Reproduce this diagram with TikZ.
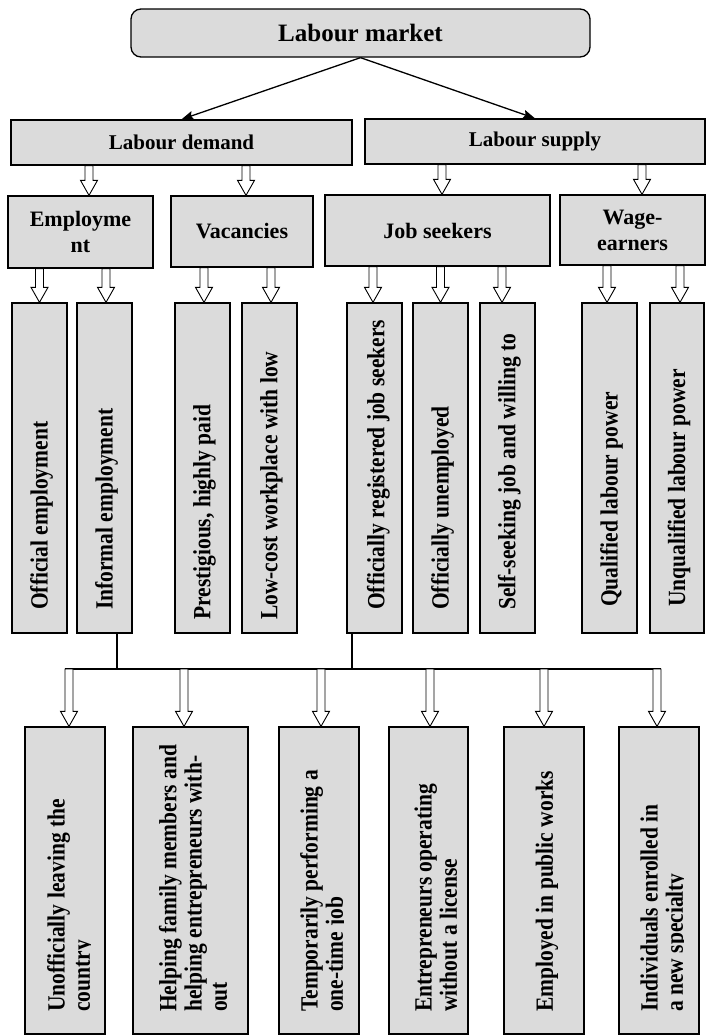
\documentclass[tikz,border=0pt]{standalone}
\usepackage{fontspec}
\setmainfont{Liberation Serif}
\usetikzlibrary{arrows.meta,calc}
\definecolor{cellgray}{gray}{0.86}

% \cellnode[options]{name}{left}{top}{right}{bottom}{text}, y measured downwards
\newcommand\cellnode[7][]{%
  \node[cell,#1,minimum width={(#5-#3)*1pt},minimum height={(#6-#4)*1pt}]
    (#2) at ({(#3+#5)/2},{-(#4+#6)/2}) {#7};}

\begin{document}
\begin{tikzpicture}[x=1pt,y=1pt,
  cell/.style={draw, fill=cellgray, line width=1.3pt, inner sep=0pt, align=center},
  htext/.style={font=\bfseries\fontsize{21}{24}\selectfont},
  hbig/.style={font=\bfseries\fontsize{22}{26}\selectfont},
  vtext/.style={font=\bfseries\fontsize{21.5}{22}\selectfont, rotate=90, yscale=1.15,
                anchor=west, inner sep=0pt, align=left},
  vlast/.style={vtext, anchor=south west},
  link/.style={line width=1.3pt},
  hollow/.style={draw, fill=white, line width=0.9pt, line join=miter,
    to path={let \p1=(\tikztostart), \p2=(\tikztotarget) in
      (\x1-4pt,\y1) -- (\x1-4pt,\y2+15pt) -- (\x1-8.5pt,\y2+15pt) -- (\x1,\y2)
      -- (\x1+8.5pt,\y2+15pt) -- (\x1+4pt,\y2+15pt) -- (\x1+4pt,\y1) -- cycle}}]

\useasboundingbox (0,0) rectangle (707,-1036);

% ---- level 1 and 2 ----
\cellnode[rounded corners=10pt, font=\bfseries\fontsize{25}{28}\selectfont]{lm}{131}{9}{590}{57}{Labour market}
\cellnode[htext]{ld}{11}{120}{352}{165}{Labour demand}
\cellnode[htext]{ls}{365}{119}{705}{164}{Labour supply}

\draw[link, -{Stealth[length=12pt,width=9pt,inset=2pt]}] (lm.south) -- (ld.north);
\draw[link, -{Stealth[length=12pt,width=9pt,inset=2pt]}] (lm.south) -- (ls.north);

% ---- level 3 ----
\cellnode[hbig]{emp}{8}{196}{153}{268}{Employme\\nt}
\cellnode[hbig]{vac}{171}{196}{313}{267}{Vacancies}
\cellnode[hbig]{js}{325}{195}{550}{266}{Job seekers}
\cellnode[hbig]{we}{560}{195}{705}{265}{Wage-\\earners}

\draw[hollow] ([xshift=8.5pt]emp.north |- ld.south) to ([xshift=8.5pt]emp.north);
\draw[hollow] ([xshift=4pt]vac.north |- ld.south) to ([xshift=4pt]vac.north);
\draw[hollow] ([xshift=4.5pt]js.north |- ls.south) to ([xshift=4.5pt]js.north);
\draw[hollow] ([xshift=9.5pt]we.north |- ls.south) to ([xshift=9.5pt]we.north);

% ---- level 4: tall boxes ----
\cellnode{oe}{12}{303}{67}{633}{}
\cellnode{ie}{77}{303}{132}{633}{}
\cellnode{pr}{175}{303}{230}{633}{}
\cellnode{lc}{242}{303}{297}{633}{}
\cellnode{rg}{347}{303}{402}{633}{}
\cellnode{ou}{413}{303}{468}{633}{}
\cellnode{ss}{480}{303}{535}{633}{}
\cellnode{ql}{582}{303}{637}{633}{}
\cellnode{uq}{650}{303}{704}{633}{}

\node[vtext] (oet) at ([xshift=2pt]oe.south |- 0,-610) {Official employment};
\node[vtext] (iet) at ([xshift=2pt]ie.south |- 0,-610) {Informal employment};
\node[vtext] (prt) at ([xshift=2pt]pr.south |- 0,-620) {Prestigious, highly paid};
\node[vtext] (lct) at ([xshift=2pt]lc.south |- 0,-620) {Low-cost workplace with low};
\node[vtext] (rgt) at ([xshift=4pt]rg.south |- 0,-610) {Officially registered job seekers};
\node[vtext] (out) at ([xshift=2pt]ou.south |- 0,-610) {Officially unemployed};
\node[vtext] (sst) at ([xshift=2pt]ss.south |- 0,-610) {Self-seeking job and willing to};
\node[vtext] (qlt) at ([xshift=2pt]ql.south |- 0,-607) {Qualified labour power};
\node[vtext] (uqt) at ([xshift=2pt]uq.south |- 0,-607) {Unqualified labour power};

\draw[hollow] (oe.north |- emp.south) to (oe.north);
\draw[hollow] ([xshift=1.5pt]ie.north |- emp.south) to ([xshift=1.5pt]ie.north);
\draw[hollow] ([xshift=1.5pt]pr.north |- vac.south) to ([xshift=1.5pt]pr.north);
\draw[hollow] ([xshift=1.5pt]lc.north |- vac.south) to ([xshift=1.5pt]lc.north);
\draw[hollow] ([xshift=-1.5pt]rg.north |- js.south) to ([xshift=-1.5pt]rg.north);
\draw[hollow] (ou.north |- js.south) to (ou.north);
\draw[hollow] ([xshift=-5.5pt]ss.north |- js.south) to ([xshift=-5.5pt]ss.north);
\draw[hollow] ([xshift=-2.5pt]ql.north |- we.south) to ([xshift=-2.5pt]ql.north);
\draw[hollow] ([xshift=3pt]uq.north |- we.south) to ([xshift=3pt]uq.north);

% ---- bus joining informal employment and registered job seekers ----
\coordinate (busL) at (65,-669);
\coordinate (busR) at (661,-669);
\draw[link, line width=1.1pt] ([xshift=12.5pt]ie.south) -- ([xshift=12.5pt]ie.south |- busL);
\draw[link, line width=1.1pt] ([xshift=-22.5pt]rg.south) -- ([xshift=-22.5pt]rg.south |- busL);
\draw[link, line width=1.1pt] (busL) -- (busR);

% ---- bottom row ----
\cellnode{b1}{25}{727}{105}{1034}{}
\cellnode{b2}{133}{727}{248}{1034}{}
\cellnode{b3}{279}{727}{359}{1034}{}
\cellnode{b4}{389}{727}{468}{1034}{}
\cellnode{b5}{504}{727}{584}{1034}{}
\cellnode{b6}{619}{727}{699}{1034}{}

% the last line of three labels is cut at its baseline by the text frame
\begin{scope}
  \clip (26,-728) rectangle (90.8,-1033);
  \node[vlast] (b1t) at (95.4,-1012) {Unofficially leaving the\\country};
\end{scope}
\node[vlast] (b2t) at (227.5,-1012) {Helping family members and\\helping entrepreneurs with-\\out};
\begin{scope}
  \clip (280,-728) rectangle (343.8,-1033);
  \node[vlast] (b3t) at (348.4,-1012) {Temporarily performing a\\one-time job};
\end{scope}
\node[vlast] (b4t) at (457.5,-1012) {Entrepreneurs operating\\without a license};
\node[vlast] (b5t) at (558.4,-1012) {Employed in public works};
\begin{scope}
  \clip (620,-728) rectangle (683.8,-1033);
  \node[vlast] (b6t) at (688.4,-1012) {Individuals enrolled in\\a new specialty};
\end{scope}

\draw[hollow] ([xshift=4pt]b1.north |- busL) to ([xshift=4pt]b1.north);
\draw[hollow] ([xshift=-6.5pt]b2.north |- busL) to ([xshift=-6.5pt]b2.north);
\draw[hollow] ([xshift=2pt]b3.north |- busL) to ([xshift=2pt]b3.north);
\draw[hollow] ([xshift=1.5pt]b4.north |- busL) to ([xshift=1.5pt]b4.north);
\draw[hollow] (b5.north |- busL) to (b5.north);
\draw[hollow] ([xshift=-2pt]b6.north |- busL) to ([xshift=-2pt]b6.north);

\end{tikzpicture}
\end{document}
